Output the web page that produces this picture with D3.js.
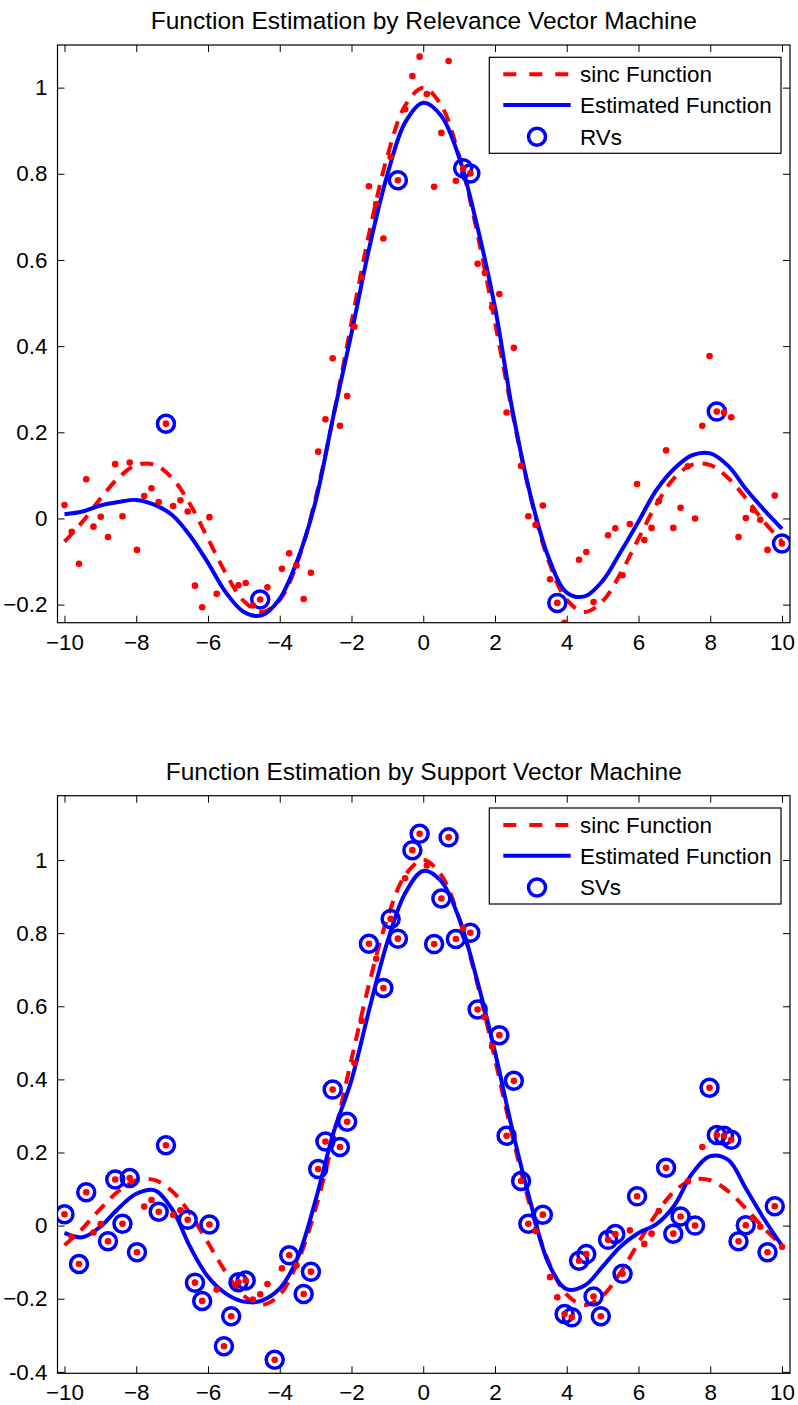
<!DOCTYPE html>
<html>
<head>
<meta charset="utf-8">
<script src="https://cdn.jsdelivr.net/npm/d3@7"></script>
<style>
  html, body { margin: 0; padding: 0; background: #fff; }
  svg { display: block; }
  text { font-family: "Liberation Sans", Arial, Helvetica, sans-serif; fill: #000; }
</style>
</head>
<body>
<svg id="chart" width="798" height="1405"></svg>
<script>
// ---------------- DATA ----------------
const titles = ["Function Estimation by Relevance Vector Machine",
                "Function Estimation by Support Vector Machine"];
const legendLabels = ["sinc Function", "Estimated Function"];
const markerLabels = ["RVs", "SVs"];

const xTicks = [-10, -8, -6, -4, -2, 0, 2, 4, 6, 8, 10];
const xTickLabels = ["\u221210", "\u22128", "\u22126", "\u22124", "\u22122", "0", "2", "4", "6", "8", "10"];
const yTicksTop = [-0.2, 0, 0.2, 0.4, 0.6, 0.8, 1];
const yTickLabelsTop = ["\u22120.2", "0", "0.2", "0.4", "0.6", "0.8", "1"];
const yTicksBottom = [-0.4, -0.2, 0, 0.2, 0.4, 0.6, 0.8, 1];
const yTickLabelsBottom = ["-0.4", "\u22120.2", "0", "0.2", "0.4", "0.6", "0.8", "1"];

// noisy samples
const sampleX = [-10, -9.798, -9.596, -9.394, -9.192, -8.990, -8.788, -8.586, -8.384, -8.182,
  -7.980, -7.778, -7.576, -7.374, -7.172, -6.970, -6.768, -6.566, -6.364, -6.162,
  -5.960, -5.758, -5.556, -5.354, -5.152, -4.949, -4.747, -4.545, -4.343, -4.141,
  -3.939, -3.737, -3.535, -3.333, -3.131, -2.929, -2.727, -2.525, -2.323, -2.121,
  -1.919, -1.717, -1.515, -1.313, -1.111, -0.909, -0.707, -0.505, -0.303, -0.101,
  0.101, 0.303, 0.505, 0.707, 0.909, 1.111, 1.313, 1.515, 1.717, 1.919,
  2.121, 2.323, 2.525, 2.727, 2.929, 3.131, 3.333, 3.535, 3.737, 3.939,
  4.141, 4.343, 4.545, 4.747, 4.949, 5.152, 5.354, 5.556, 5.758, 5.960,
  6.162, 6.364, 6.566, 6.768, 6.970, 7.172, 7.374, 7.576, 7.778, 7.980,
  8.182, 8.384, 8.586, 8.788, 8.990, 9.192, 9.394, 9.596, 9.798, 10];
const sampleY = [0.031, -0.031, -0.105, 0.091, -0.019, 0.004, -0.043, 0.126, 0.005, 0.130,
  -0.073, 0.052, 0.070, 0.038, 0.220, 0.029, 0.042, 0.016, -0.156, -0.206,
  0.003, -0.175, -0.330, -0.248, -0.155, -0.150, -0.202, -0.188, -0.160, -0.367,
  -0.117, -0.081, -0.109, -0.187, -0.126, 0.155, 0.230, 0.372, 0.215, 0.284,
  0.445, 0.560, 0.771, 0.730, 0.650, 0.839, 0.785, 0.950, 1.027, 1.072,
  0.985, 0.770, 0.895, 1.062, 0.784, 0.813, 0.801, 0.591, 0.570, 0.490,
  0.521, 0.246, 0.396, 0.122, 0.005, -0.015, 0.030, -0.141, -0.196, -0.242,
  -0.251, -0.096, -0.078, -0.194, -0.248, -0.039, -0.023, -0.132, -0.013, 0.080,
  -0.050, -0.022, 0.040, 0.158, -0.022, 0.025, 0.121, 0.000, 0.215, 0.377,
  0.248, 0.246, 0.235, -0.043, 0.001, 0.020, -0.003, -0.073, 0.053, -0.058];

// relevance vectors / support vectors (indices into samples)
const rvIndex = [14, 27, 46, 55, 56, 68, 90, 99];
const svIndex = [0, 2, 3, 6, 7, 8, 9, 10, 13, 14, 17, 18, 19, 20, 22, 23, 24, 25, 29, 31,
  33, 34, 35, 36, 37, 38, 39, 42, 44, 45, 46, 48, 49, 51, 52, 53, 54, 56, 57, 60,
  61, 62, 63, 64, 66, 69, 70, 71, 72, 73, 74, 75, 76, 77, 79, 83, 84, 85, 87, 89,
  90, 91, 92, 93, 94, 97, 98];

// curves (read at 0.5 steps)
const curveX = [-10, -9.5, -9, -8.5, -8, -7.5, -7, -6.5, -6, -5.5, -5, -4.5, -4, -3.5, -3, -2.5, -2, -1.5, -1, -0.5,
  0, 0.5, 1, 1.5, 2, 2.5, 3, 3.5, 4, 4.5, 5, 5.5, 6, 6.5, 7, 7.5, 8, 8.5, 9, 9.5, 10];
const sincY = [-0.054, -0.008, 0.046, 0.094, 0.124, 0.125, 0.094, 0.033, -0.047, -0.128, -0.192, -0.217, -0.189, -0.100, 0.047, 0.239, 0.455, 0.665, 0.841, 0.959,
  1.000, 0.959, 0.841, 0.665, 0.455, 0.239, 0.047, -0.100, -0.189, -0.217, -0.192, -0.128, -0.047, 0.033, 0.094, 0.125, 0.124, 0.094, 0.046, -0.008, -0.054];
const rvmY = [0.010, 0.016, 0.030, 0.038, 0.043, 0.032, 0.008, -0.040, -0.103, -0.172, -0.217, -0.225, -0.186, -0.095, 0.040, 0.240, 0.430, 0.630, 0.798, 0.920,
  0.965, 0.935, 0.838, 0.680, 0.490, 0.245, 0.050, -0.092, -0.172, -0.181, -0.145, -0.078, -0.007, 0.066, 0.116, 0.147, 0.151, 0.122, 0.068, 0.020, -0.024];
const svmY = [-0.020, -0.032, -0.003, 0.047, 0.087, 0.097, 0.045, -0.058, -0.140, -0.186, -0.208, -0.205, -0.172, -0.088, 0.070, 0.255, 0.398, 0.593, 0.776, 0.910,
  0.970, 0.942, 0.840, 0.672, 0.475, 0.255, 0.060, -0.105, -0.174, -0.164, -0.112, -0.057, -0.020, 0.004, 0.055, 0.143, 0.190, 0.180, 0.100, 0.018, -0.055];

// ---------------- DRAW ----------------
const svg = d3.select("#chart");
svg.append("rect").attr("width", 798).attr("height", 1405).attr("fill", "#fff");

const RED = "#ff0000", BLUE = "#0000ff";
const FS = 22.4;
const TFS = 24.5;

const panels = [
  { top: 45, bottom: 622.7, yDomain: [-0.242, 1.099], yTicks: yTicksTop, yLabels: yTickLabelsTop,
    est: rvmY, vec: rvIndex, title: titles[0], mark: markerLabels[0] },
  { top: 795.7, bottom: 1373.3, yDomain: [-0.404, 1.176], yTicks: yTicksBottom, yLabels: yTickLabelsBottom,
    est: svmY, vec: svIndex, title: titles[1], mark: markerLabels[1] }
];
const L = 57.5, R = 790;

panels.forEach((p, pi) => {
  const x = d3.scaleLinear().domain([-10.195, 10.223]).range([L, R]);
  const y = d3.scaleLinear().domain(p.yDomain).range([p.bottom, p.top]);
  const g = svg.append("g");
  const clipId = "clip" + pi;
  g.append("clipPath").attr("id", clipId).append("rect")
    .attr("x", L).attr("y", p.top).attr("width", R - L).attr("height", p.bottom - p.top);

  // title
  g.append("text").attr("x", (L + R) / 2).attr("y", p.top - 16)
    .attr("text-anchor", "middle").attr("font-size", TFS).text(p.title);

  // axes
  const axB = d3.axisBottom(x).tickValues(xTicks).tickSizeInner(-7).tickSizeOuter(0).tickPadding(11)
    .tickFormat((d, i) => xTickLabels[i]);
  const axT = d3.axisTop(x).tickValues(xTicks).tickSizeInner(-7).tickSizeOuter(0).tickFormat("");
  const axL = d3.axisLeft(y).tickValues(p.yTicks).tickSizeInner(-7).tickSizeOuter(0).tickPadding(10)
    .tickFormat((d, i) => p.yLabels[i]);
  const axR = d3.axisRight(y).tickValues(p.yTicks).tickSizeInner(-7).tickSizeOuter(0).tickFormat("");

  const styleAxis = sel => {
    sel.select(".domain").remove();
    sel.selectAll("line").attr("stroke", "#000").attr("stroke-width", 1);
    sel.selectAll("text").attr("font-size", FS).attr("fill", "#000")
      .attr("font-family", "'Liberation Sans', Arial, sans-serif");
  };
  g.append("g").attr("transform", `translate(0,${p.bottom})`).call(axB).call(styleAxis);
  g.append("g").attr("transform", `translate(0,${p.top})`).call(axT).call(styleAxis);
  g.append("g").attr("transform", `translate(${L},0)`).call(axL).call(styleAxis);
  g.append("g").attr("transform", `translate(${R},0)`).call(axR).call(styleAxis);

  const plot = g.append("g").attr("clip-path", `url(#${clipId})`);

  const lineGen = d3.line().x(d => x(d[0])).y(d => y(d[1])).curve(d3.curveCatmullRom.alpha(0.5));

  // sinc
  plot.append("path").datum(curveX.map((v, i) => [v, sincY[i]]))
    .attr("d", lineGen).attr("fill", "none").attr("stroke", RED)
    .attr("stroke-width", 4).attr("stroke-dasharray", "13,9");
  // estimated
  plot.append("path").datum(curveX.map((v, i) => [v, p.est[i]]))
    .attr("d", lineGen).attr("fill", "none").attr("stroke", BLUE)
    .attr("stroke-width", 4).attr("stroke-linejoin", "round");
  // vectors
  plot.selectAll("circle.vec").data(p.vec).join("circle").attr("class", "vec")
    .attr("cx", i => x(sampleX[i])).attr("cy", i => y(sampleY[i])).attr("r", 8.5)
    .attr("fill", "none").attr("stroke", BLUE).attr("stroke-width", 3.5);
  // samples
  plot.selectAll("circle.pt").data(sampleX.map((v, i) => [v, sampleY[i]])).join("circle").attr("class", "pt")
    .attr("cx", d => x(d[0])).attr("cy", d => y(d[1])).attr("r", 3.3).attr("fill", RED);

  // box
  g.append("rect").attr("x", L).attr("y", p.top).attr("width", R - L).attr("height", p.bottom - p.top)
    .attr("fill", "none").attr("stroke", "#000").attr("stroke-width", 1.2);

  // legend
  const lx = 489.3, ly = p.top + 12.3, lw = 291.7, lh = 96;
  const lg = g.append("g");
  lg.append("rect").attr("x", lx).attr("y", ly).attr("width", lw).attr("height", lh)
    .attr("fill", "#fff").attr("stroke", "#000").attr("stroke-width", 1.2);
  const rows = [ly + 17, ly + 47.7, ly + 79.4];
  lg.append("line").attr("x1", 503.3).attr("x2", 570.7).attr("y1", rows[0]).attr("y2", rows[0])
    .attr("stroke", RED).attr("stroke-width", 4).attr("stroke-dasharray", "13,13");
  lg.append("line").attr("x1", 503.3).attr("x2", 570.7).attr("y1", rows[1]).attr("y2", rows[1])
    .attr("stroke", BLUE).attr("stroke-width", 4);
  lg.append("circle").attr("cx", 537).attr("cy", rows[2]).attr("r", 8.5)
    .attr("fill", "none").attr("stroke", BLUE).attr("stroke-width", 3.5);
  const labs = [legendLabels[0], legendLabels[1], p.mark];
  labs.forEach((t, i) => {
    lg.append("text").attr("x", 580).attr("y", rows[i]).attr("dy", "0.35em")
      .attr("font-size", FS).text(t);
  });
});
</script>
</body>
</html>
